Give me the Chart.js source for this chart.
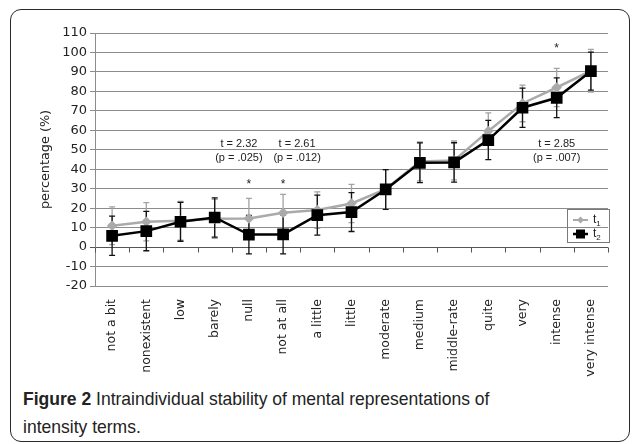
<!DOCTYPE html>
<html>
<head>
<meta charset="utf-8">
<script src="https://cdn.jsdelivr.net/npm/chart.js@4.4.1/dist/chart.umd.min.js"></script>
<style>
  body { margin: 0; background: #fff; }
  #frame { position: absolute; left: 10px; top: 9px; width: 618px; height: 431px;
           border: 1.5px solid #2a2a2a; border-radius: 11px; }
  #wrap { position: absolute; left: 0; top: 0; width: 635px; height: 380px; }
  #caption { position: absolute; left: 23px; top: 385px; width: 505px;
             font-family: "Liberation Sans", Arial, sans-serif;
             font-size: 18.5px; line-height: 28px; color: #222;
             transform: scaleX(0.947); transform-origin: 0 0; }
  #caption b { font-weight: bold; }
  #legend { position: absolute; left: 567px; top: 209px; width: 41px; height: 32px;
            border: 1px solid #7a7a7a; font-family: "Liberation Sans", Arial, sans-serif;
            font-size: 12px; color: #222; }
  .row { position: absolute; left: 4px; height: 14px; }
  .row svg { position: absolute; left: 0; top: 1px; }
  .row span { position: absolute; left: 21px; top: -1px; }
  .row sub { font-size: 8px; }
</style>
</head>
<body>
<div id="frame"></div>
<div id="wrap"><canvas id="chart"></canvas></div>
<div id="legend">
  <div class="row" style="top:3px"><svg width="18" height="12"><line x1="1" y1="6" x2="16" y2="6" stroke="#aaa" stroke-width="2"/><rect x="6" y="3.5" width="5" height="5" fill="#aaa" transform="rotate(45 8.5 6)"/></svg><span>t<sub>1</sub></span></div>
  <div class="row" style="top:17px"><svg width="18" height="12"><line x1="1" y1="6" x2="16" y2="6" stroke="#000" stroke-width="2.5"/><rect x="4" y="1.5" width="9" height="9" fill="#000"/></svg><span>t<sub>2</sub></span></div>
</div>
<div id="caption"><b>Figure 2</b> Intraindividual stability of mental representations of intensity terms.</div>
<script>
var categories = ['not a bit', 'nonexistent', 'low', 'barely', 'null', 'not at all', 'a little', 'little',
  'moderate', 'medium', 'middle-rate', 'quite', 'very', 'intense', 'very intense'];
var t1 = [11, 13, 13.5, 14.5, 14.7, 17.6, 19, 22.4, 29.8, 44, 44.5, 59.6, 73.8, 82, 90.6];
var t1Err = [9.7, 9.8, 10, 10, 10.3, 9.5, 9.4, 9.8, 10, 10, 10, 9.4, 9.4, 9.8, 11];
var t2 = [5.8, 8.2, 13, 15.2, 6.4, 6.5, 16.4, 18, 29.6, 43.3, 43.5, 55, 71.6, 76.7, 90.4];
var t2Err = [10.1, 10.1, 10, 10.1, 9.9, 10, 10.3, 10, 10.2, 10.2, 10.1, 10.1, 10.1, 10.2, 9.8];
var yTicks = [-20, 110, 10];

// significance notes: category index, t text, p text
var noteIdx = [4, 5, 13];
var noteT = ['t = 2.32', 't = 2.61', 't = 2.85'];
var noteP = ['(p = .025)', '(p = .012)', '(p = .007)'];
var starIdx = [4, 5, 13];
var starVal = [33, 33, 103];

var extras = {
  id: 'extras',
  beforeDatasetsDraw: function(chart) {
    var ctx = chart.ctx, xs = chart.scales.x, ys = chart.scales.y;
    ctx.save();
    // little tick marks on the zero line
    ctx.strokeStyle = '#555';
    ctx.lineWidth = 1;
    var y0 = Math.round(ys.getPixelForValue(0)) + 0.5;
    for (var i = 0; i <= categories.length; i++) {
      var px = Math.round(xs.getPixelForValue(i - 0.5)) + 0.5;
      ctx.beginPath(); ctx.moveTo(px, y0); ctx.lineTo(px, y0 + 5); ctx.stroke();
    }
    // error bars
    [[t1, t1Err, '#a3a3a3'], [t2, t2Err, '#111']].forEach(function(s) {
      ctx.strokeStyle = s[2];
      ctx.lineWidth = 1.3;
      s[0].forEach(function(v, j) {
        var x = xs.getPixelForValue(j);
        var top = ys.getPixelForValue(v + s[1][j]);
        var bot = ys.getPixelForValue(v - s[1][j]);
        ctx.beginPath();
        ctx.moveTo(x, top); ctx.lineTo(x, bot);
        ctx.moveTo(x - 3, top); ctx.lineTo(x + 3, top);
        ctx.moveTo(x - 3, bot); ctx.lineTo(x + 3, bot);
        ctx.stroke();
      });
    });
    ctx.restore();
  },
  afterDatasetsDraw: function(chart) {
    var ctx = chart.ctx, xs = chart.scales.x, ys = chart.scales.y;
    ctx.save();
    ctx.fillStyle = '#222';
    ctx.textAlign = 'center';
    ctx.textBaseline = 'middle';
    ctx.font = '11px "Liberation Sans", Arial, sans-serif';
    var shift = [-10, 14, 0];
    noteIdx.forEach(function(k, n) {
      var x = xs.getPixelForValue(k) + shift[n];
      ctx.fillText(noteT[n], x, ys.getPixelForValue(53));
      ctx.fillText(noteP[n], x, ys.getPixelForValue(46));
    });
    ctx.font = '12px "Liberation Sans", Arial, sans-serif';
    starIdx.forEach(function(k, n) {
      ctx.fillText('*', xs.getPixelForValue(k), ys.getPixelForValue(starVal[n]) + 2);
    });
    ctx.restore();
  }
};

var ctx = document.getElementById('chart').getContext('2d');
var myChart = new Chart(ctx, {
  type: 'line',
  data: {
    labels: categories,
    datasets: [{
      label: 't2',
      data: t2,
      borderColor: '#000',
      backgroundColor: '#000',
      borderWidth: 2.5,
      pointStyle: 'rect',
      pointRadius: 6.5,
      order: 0
    }, {
      label: 't1',
      data: t1,
      borderColor: '#aaaaaa',
      backgroundColor: '#aaaaaa',
      borderWidth: 2.5,
      pointStyle: 'rectRot',
      pointRadius: 3.5,
      order: 1
    }]
  },
  options: {
    responsive: true,
    maintainAspectRatio: false,
    animation: false,
    layout: { padding: { left: 34, right: 27, top: 33, bottom: 0 } },
    plugins: { legend: { display: false }, tooltip: { enabled: false } },
    scales: {
      x: {
        offset: true,
        grid: { display: false },
        border: { display: false },
        ticks: {
          autoSkip: false, minRotation: 90, maxRotation: 90, padding: 5,
          color: '#222', font: { family: 'DejaVu Sans', size: 12.5 }
        },
        afterFit: function(scale) { scale.height = 94; }
      },
      y: {
        min: yTicks[0], max: yTicks[1],
        ticks: {
          stepSize: yTicks[2], padding: 3, color: '#222',
          font: { family: 'DejaVu Sans', size: 13 }
        },
        grid: {
          color: function(c) { return c.tick && c.tick.value === 0 ? '#555' : '#8c8c8c'; },
          lineWidth: 1, tickLength: 5
        },
        border: { color: '#8c8c8c', width: 1 },
        title: {
          display: true, text: 'percentage (%)', color: '#222',
          font: { family: 'DejaVu Sans', size: 12.8 }, padding: { top: 4, bottom: 0 }
        },
        afterFit: function(scale) { scale.width = 61; }
      }
    }
  },
  plugins: [extras]
});
</script>
</body>
</html>
